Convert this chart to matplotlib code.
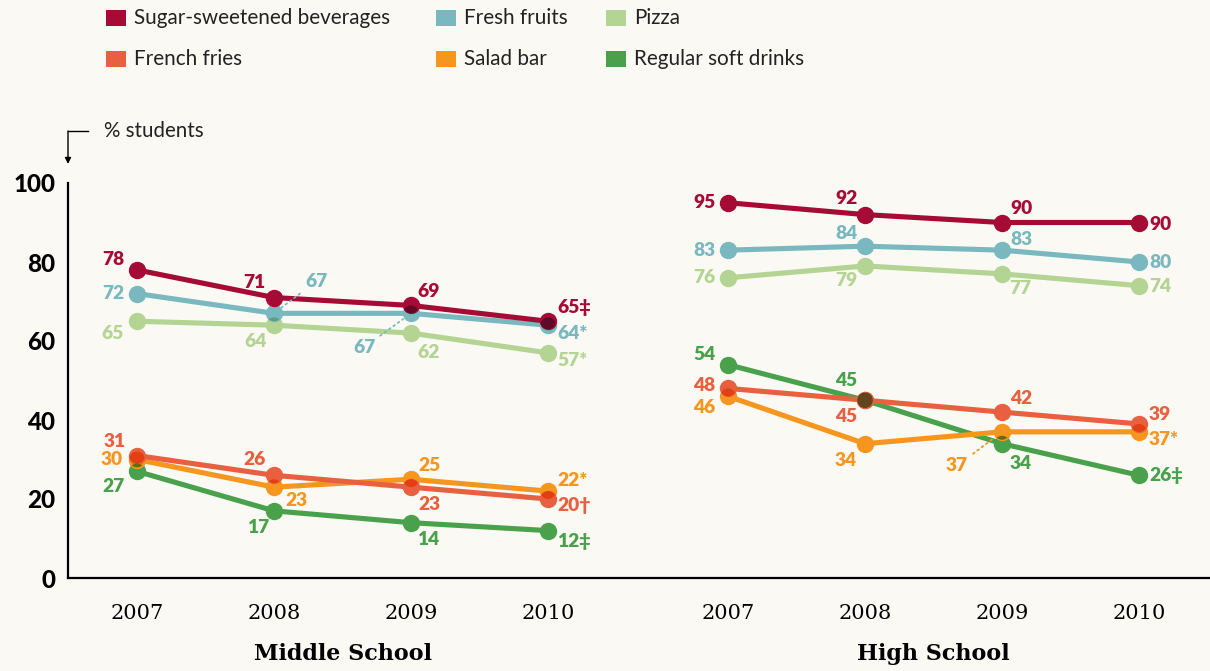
import numpy as np
import matplotlib.pyplot as plt
from matplotlib.patches import Circle, Rectangle
from matplotlib.transforms import IdentityTransform, blended_transform_factory
from matplotlib.colors import to_rgb

years = ['2007', '2008', '2009', '2010']
groups = ['Middle School', 'High School']

series = ['Sugar-sweetened beverages', 'Fresh fruits', 'Pizza',
          'French fries', 'Salad bar', 'Regular soft drinks']
colors = ['#a50b34', '#7ab8bf', '#b3d493', '#e8603f', '#f7961f', '#4aa14c']

sugar_ms = [78, 71, 69, 65]
sugar_hs = [95, 92, 90, 90]
fruits_ms = [72, 67, 67, 64]
fruits_hs = [83, 84, 83, 80]
pizza_ms = [65, 64, 62, 57]
pizza_hs = [76, 79, 77, 74]
fries_ms = [31, 26, 23, 20]
fries_hs = [48, 45, 42, 39]
salad_ms = [30, 23, 25, 22]
salad_hs = [46, 34, 37, 37]
soda_ms = [27, 17, 14, 12]
soda_hs = [54, 45, 34, 26]

# significance marks after the 2010 values
marks_ms = ['‡', '*', '*', '†', '*', '‡']
marks_hs = ['', '', '', '', '*', '‡']

# label offsets in pixels (dx, dy up) per series / year
offs_ms = [[(-24, 10), (-20, 15), (18, 14), (9, 14)],
           [(-24, 0), (42, 32), (-47, -34), (9, -8)],
           [(-24, -12), (-19, -16), (18, -19), (9, -8)],
           [(-22, 14), (-19, 16), (18, -17), (9, -7)],
           [(-25, 0), (22, -13), (18, 14), (9, 11)],
           [(-24, -15), (-16, -17), (17, -17), (9, -11)]]
offs_hs = [[(-24, 0), (-19, 16), (19, 14), (10, -2)],
           [(-24, 0), (-19, 13), (19, 11), (10, 0)],
           [(-24, 0), (-19, -15), (18, -15), (10, -1)],
           [(-24, 3), (-19, -16), (19, 14), (10, 9)],
           [(-24, -11), (-19, -17), (-45, -34), (10, -8)],
           [(-24, 10), (-19, 20), (19, -20), (10, 0)]]

ms_vals = [sugar_ms, fruits_ms, pizza_ms, fries_ms, salad_ms, soda_ms]
hs_vals = [sugar_hs, fruits_hs, pizza_hs, fries_hs, salad_hs, soda_hs]

bg = '#fbf9f4'
W, H = 1210, 671
fig = plt.figure(figsize=(W / 100, H / 100), dpi=100, facecolor=bg)
ax = fig.add_axes([68 / W, (H - 578) / H, 1 - 68 / W, (578 - 183) / H])
ax.set_facecolor(bg)

x_ms = np.arange(4)
x_hs = np.arange(4) + 4.314
ax.set_xlim(-0.504, 7.832)
ax.set_ylim(0, 100)
ax.set_autoscale_on(False)

num_font = ['Lato', 'DejaVu Sans']

# draw lines, first series of each block on top
draw_order = [2, 1, 0, 5, 4, 3]
for xs, vals, marks, offs in [(x_ms, ms_vals, marks_ms, offs_ms),
                              (x_hs, hs_vals, marks_hs, offs_hs)]:
    for z, i in enumerate(draw_order):
        ax.plot(xs, vals[i], color=colors[i], lw=3.7, marker='o', ms=11.5,
                solid_capstyle='round', zorder=3 + z * 0.1, clip_on=False)
    for i in range(len(vals)):
        for k in range(4):
            dx, dy = offs[i][k]
            txt = str(vals[i][k])
            ha = 'center'
            if k == 3:
                txt += marks[i]
                ha = 'left'
            arrow = None
            if abs(dx) > 30:
                arrow = dict(arrowstyle='-', ls=(0, (1, 2)), lw=1.3,
                             color=colors[i], shrinkA=2, shrinkB=7)
            ax.annotate(txt, (xs[k], vals[i][k]), xytext=(dx, dy),
                        textcoords='offset pixels', ha=ha, va='center',
                        color=colors[i], fontsize=13.8, fontweight='heavy',
                        family=num_font, zorder=12, arrowprops=arrow)

# darker overlap where two dots sit on top of each other (multiply look)
r = 7.9
for xs, vals in [(x_ms, ms_vals), (x_hs, hs_vals)]:
    for i in range(len(vals)):
        for j in range(i + 1, len(vals)):
            for k in range(4):
                pa = ax.transData.transform((xs[k], vals[i][k]))
                pb = ax.transData.transform((xs[k], vals[j][k]))
                if abs(pa[1] - pb[1]) < 2 * r:
                    c = np.array(to_rgb(colors[i])) * np.array(to_rgb(colors[j]))
                    c = 0.8 * c + 0.2 * np.array(to_rgb(colors[i]))
                    clip = Circle(pa, r, transform=IdentityTransform())
                    dot = Circle(pb, r, transform=IdentityTransform(),
                                 facecolor=c, edgecolor='none', zorder=10)
                    ax.add_artist(dot)
                    dot.set_clip_path(clip)

# axes styling
for s in ['top', 'right']:
    ax.spines[s].set_visible(False)
ax.spines['left'].set_linewidth(1.6)
ax.spines['bottom'].set_linewidth(1.6)
ax.set_yticks([0, 20, 40, 60, 80, 100])
ax.set_yticklabels(['0', '20', '40', '60', '80', '100'], family=num_font,
                   fontweight='black', fontsize=17.5)
ax.tick_params(axis='y', length=0, pad=9)
ax.set_xticks(list(x_ms) + list(x_hs))
ax.set_xticklabels(years + years, family='DejaVu Serif', fontsize=15)
ax.tick_params(axis='x', length=0, pad=19)

tr = blended_transform_factory(ax.transData, fig.transFigure)
for xs, g in [(x_ms, groups[0]), (x_hs, groups[1])]:
    ax.text(xs.mean(), 1 - 654 / H, g, transform=tr, ha='center', va='center',
            family='DejaVu Serif', fontweight='bold', fontsize=16)

# "% students" pointer
fig.text(104 / W, 1 - 131 / H, '% students', family='Lato', fontsize=14.8,
         va='center', ha='left', color='#222222')
fig.add_artist(plt.Line2D([68 / W, 88 / W], [1 - 131 / H, 1 - 131 / H],
                          transform=fig.transFigure, color='black', lw=1))
ax.annotate('', xy=(68 / W, 1 - 164 / H), xytext=(68 / W, 1 - 131 / H),
            xycoords='figure fraction', textcoords='figure fraction',
            arrowprops=dict(arrowstyle='-|>', color='black', lw=1,
                            mutation_scale=9, shrinkA=0, shrinkB=0))

# legend
leg_x = [106, 436, 606]
leg_y = [18, 59]
for n, name in enumerate(series):
    col, row = n % 3, n // 3
    fig.add_artist(Rectangle((leg_x[col] / W, 1 - (leg_y[row] + 8) / H), 20 / W, 16 / H,
                             transform=fig.transFigure, color=colors[n], lw=0))
    fig.text((leg_x[col] + 28) / W, 1 - leg_y[row] / H, name, family='Lato',
             fontsize=14.9, va='center', ha='left', color='#222222')

fig.savefig('out.png', dpi=100, facecolor=bg)
